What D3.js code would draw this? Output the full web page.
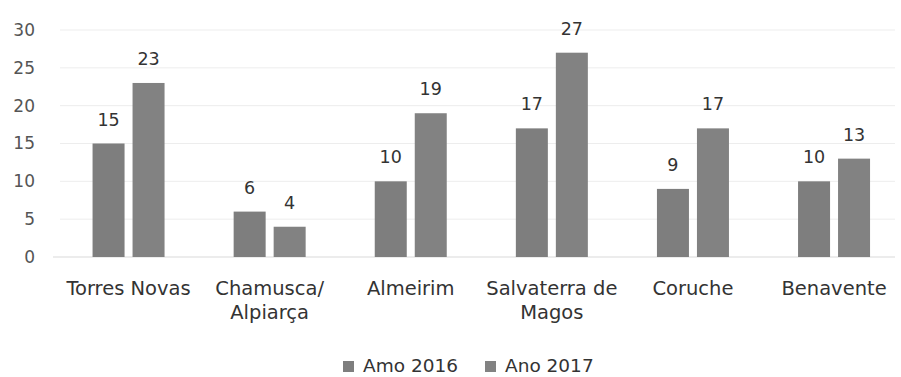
<!DOCTYPE html>
<html><head><meta charset="utf-8">
<script src="https://cdn.jsdelivr.net/npm/d3@7"></script>
<style>body{margin:0;background:#fff}svg{display:block}</style>
</head><body>
<svg id="c" width="901" height="377"></svg>
<script>
const categories = [["Torres Novas"], ["Chamusca/", "Alpiarça"], ["Almeirim"], ["Salvaterra de", "Magos"], ["Coruche"], ["Benavente"]];
const seriesNames = ["Amo 2016", "Ano 2017"];
const values2016 = [15, 6, 10, 17, 9, 10];
const values2017 = [23, 4, 19, 27, 17, 13];
const yTicks = [0, 5, 10, 15, 20, 25, 30];

const svg = d3.select("#c");
const font = "DejaVu Sans";
const colors = ["#7e7e7e", "#828282"];
const keys = categories.map(c => c.join(" "));

const x0 = d3.scaleBand().domain(keys).range([58, 904.6]).paddingInner(0).paddingOuter(0);
const step = x0.step();
const x1 = d3.scaleBand().domain(seriesNames).range([step / 2 - 36, step / 2 + 36]).paddingInner(0.2).paddingOuter(0);
const y = d3.scaleLinear().domain([0, 30]).range([257, 30]);

// gridlines
svg.append("g").selectAll("line").data(yTicks.filter(t => t > 0)).join("line")
  .attr("x1", 60).attr("x2", 895)
  .attr("y1", d => y(d)).attr("y2", d => y(d))
  .attr("stroke", "#ededed").attr("stroke-width", 1);
svg.append("line").attr("x1", 53).attr("x2", 895).attr("y1", y(0)).attr("y2", y(0))
  .attr("stroke", "#d9d9d9").attr("stroke-width", 1.2);

// y axis labels
const yAxis = d3.axisLeft(y).tickValues(yTicks).tickSize(0).tickPadding(0);
const ya = svg.append("g").attr("transform", "translate(35,0)").call(yAxis);
ya.select(".domain").remove();
ya.selectAll("text").attr("font-family", font).attr("font-size", 17).attr("fill", "#555");

// bars
const data = keys.map((k, i) => ({ k, vals: [values2016[i], values2017[i]] }));
const groups = svg.append("g").selectAll("g").data(data).join("g")
  .attr("transform", d => `translate(${x0(d.k)},0)`);
groups.selectAll("rect").data(d => d.vals.map((v, j) => ({ v, s: seriesNames[j], j }))).join("rect")
  .attr("x", d => x1(d.s)).attr("width", x1.bandwidth())
  .attr("y", d => y(d.v)).attr("height", d => y(0) - y(d.v))
  .attr("fill", d => colors[d.j]);
groups.selectAll("text.lbl").data(d => d.vals.map((v, j) => ({ v, s: seriesNames[j] }))).join("text")
  .attr("class", "lbl")
  .attr("x", d => x1(d.s) + x1.bandwidth() / 2).attr("y", d => y(d.v) - 18)
  .attr("text-anchor", "middle").attr("font-family", font).attr("font-size", 17.5).attr("fill", "#333")
  .text(d => d.v);

// x axis labels
const xa = svg.append("g");
categories.forEach((lines, i) => {
  const t = xa.append("text").attr("x", x0(keys[i]) + step / 2).attr("y", 295)
    .attr("text-anchor", "middle").attr("font-family", font).attr("font-size", 19.5).attr("fill", "#333");
  lines.forEach((ln, j) => t.append("tspan").attr("x", x0(keys[i]) + step / 2).attr("dy", j ? 24 : 0).text(ln));
});

// legend
const legX = [343, 485];
const leg = svg.append("g");
seriesNames.forEach((n, i) => {
  leg.append("rect").attr("x", legX[i]).attr("y", 361).attr("width", 11).attr("height", 11).attr("fill", colors[i]);
  leg.append("text").attr("x", legX[i] + 20).attr("y", 372).attr("font-family", font).attr("font-size", 18.5).attr("fill", "#333").text(n);
});
</script>
</body></html>
